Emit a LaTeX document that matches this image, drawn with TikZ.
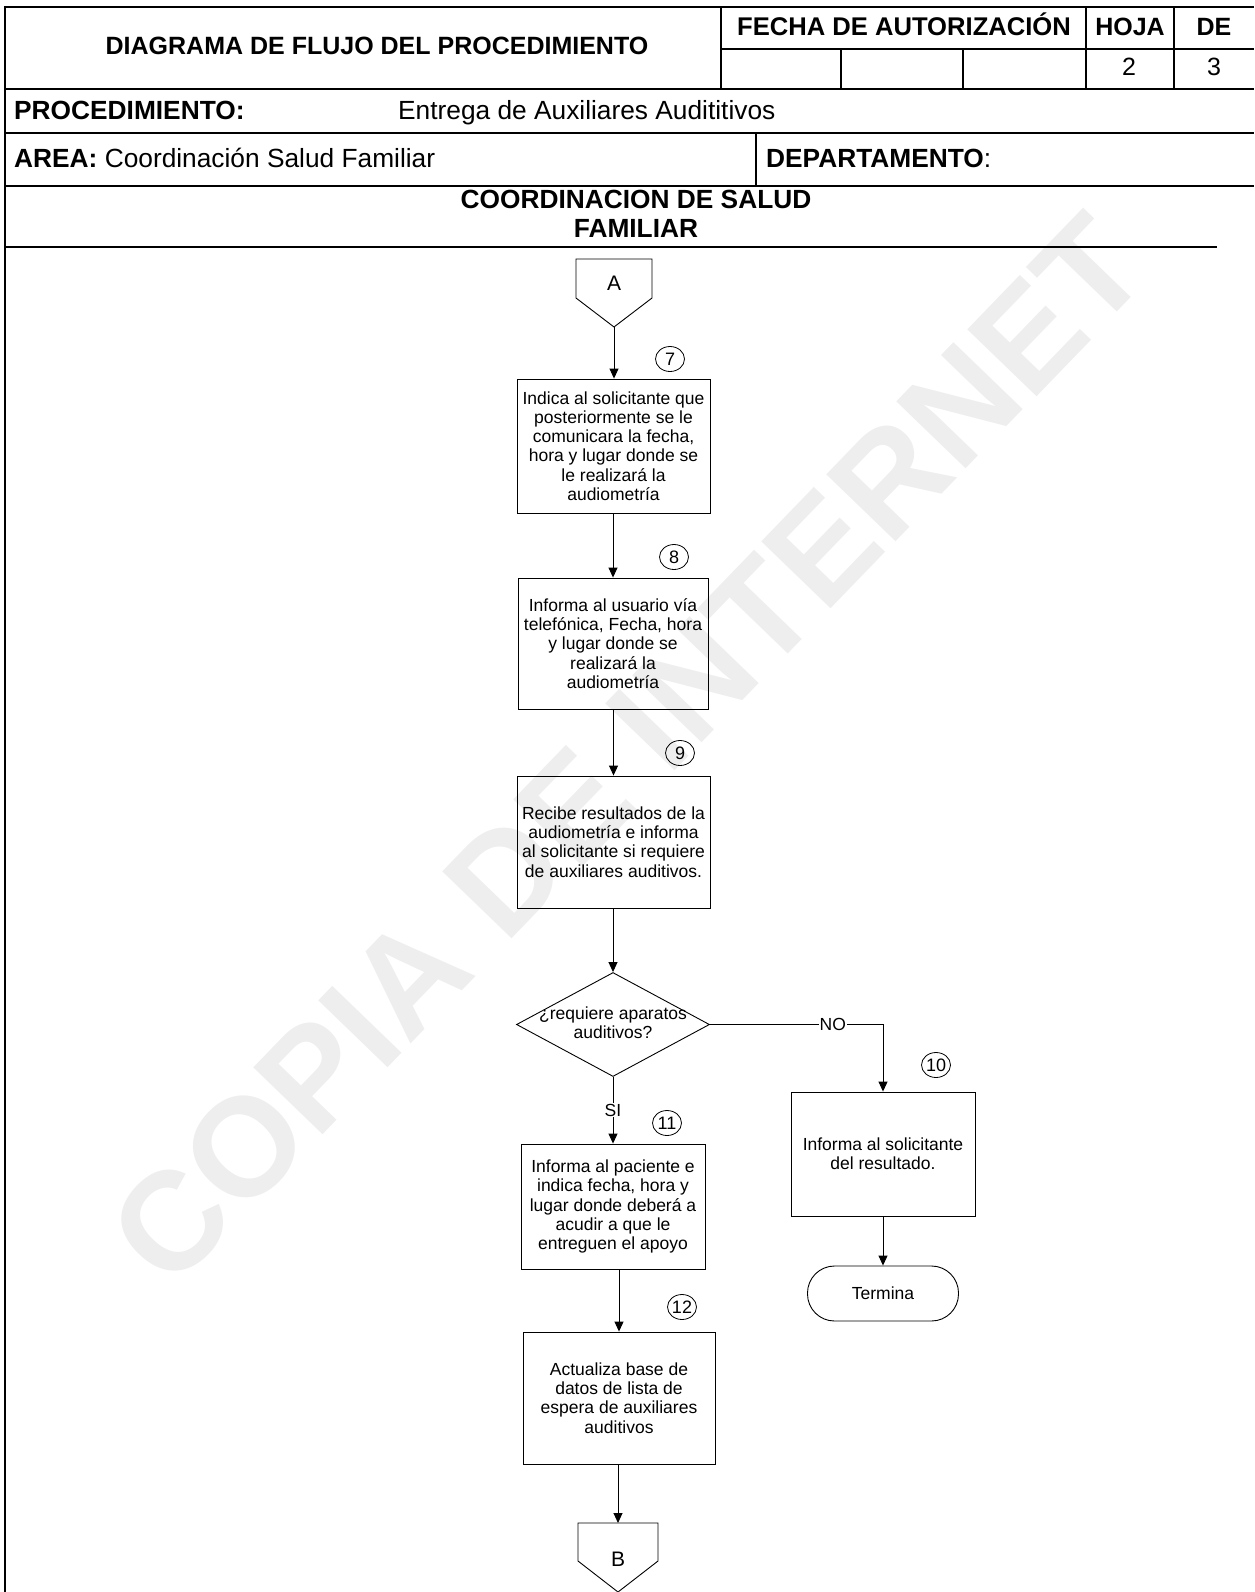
\documentclass[tikz,border=0pt]{standalone}
\usepackage{fontspec}
\setmainfont{Liberation Sans}
\usetikzlibrary{shapes.geometric,arrows.meta}
\begin{document}
\begin{tikzpicture}[x=1pt,y=-1pt,
  hb/.style={font=\fontsize{25}{29}\selectfont\bfseries, inner sep=0pt, anchor=base},
  hr/.style={font=\fontsize{25}{29}\selectfont, inner sep=0pt, anchor=base},
  hbl/.style={font=\fontsize{26.3}{29}\selectfont\bfseries, inner sep=0pt, anchor=base},
  hrl/.style={font=\fontsize{26.3}{29}\selectfont, inner sep=0pt, anchor=base},
  frame/.style={line width=1.6pt},
  box/.style={draw, line width=0.9pt, align=center, font=\fontsize{17.5}{19.3}\selectfont, inner sep=0pt},
  num/.style={draw, ellipse, line width=0.8pt, minimum width=29pt, minimum height=25pt, inner sep=0pt, font=\fontsize{18}{18}\selectfont},
  lbl/.style={font=\fontsize{17.5}{19.3}\selectfont, inner sep=1pt, fill=white},
  txt/.style={font=\fontsize{17.5}{19.3}\selectfont, align=center, inner sep=0pt},
  arr/.style={line width=0.9pt, -{Triangle[length=10pt,width=9pt]}},
  ln/.style={line width=0.9pt}
]
\useasboundingbox (0,0) rectangle (1254,1592);
\fill[white] (0,0) rectangle (1254,1592);

% watermark
\node[rotate=46, text=gray!13, font=\fontsize{140}{140}\selectfont\bfseries, inner sep=0pt] (wm) at (628,750) {COPIA DE INTERNET};

% header frame
\draw[line width=2pt] (5,6) -- (5,1592);
\draw[frame] (5,7) -- (1254,7);
\draw[frame] (5,89) -- (1254,89);
\draw[frame] (5,133) -- (1254,133);
\draw[frame] (5,186) -- (1254,186);
\draw[line width=1.3pt] (5,247) -- (1217,247);
\draw[frame] (721,7) -- (721,89);
\draw[frame] (1086,7) -- (1086,89);
\draw[frame] (1174,7) -- (1174,89);
\draw[frame] (721,49) -- (1254,49);
\draw[frame] (841,49) -- (841,89);
\draw[frame] (963,49) -- (963,89);
\draw[frame] (756,133) -- (756,186);

% header texts
\node[hb] (t1) at (377,55) {DIAGRAMA DE FLUJO DEL PROCEDIMIENTO};
\node[hb, font=\fontsize{25.6}{29}\selectfont\bfseries] (t2) at (904,36) {FECHA DE AUTORIZACIÓN};
\node[hb] (t3) at (1130,36) {HOJA};
\node[hb] (t4) at (1214,36) {DE};
\node[hr] (t5) at (1129,76) {2};
\node[hr] (t6) at (1214,76) {3};
\node[hbl, anchor=base west] (t7) at (14,120) {PROCEDIMIENTO:};
\node[hrl, anchor=base west] (t8) at (398,120) {Entrega de Auxiliares Audititivos};
\node[hrl, anchor=base west] (t9) at (14,167) {\textbf{AREA:} Coordinación Salud Familiar};
\node[hrl, anchor=base west] (t10) at (766,167) {\textbf{DEPARTAMENTO}:};
\node[hbl] (t11) at (636,208) {COORDINACION DE SALUD};
\node[hbl] (t12) at (636,237.5) {FAMILIAR};

% off-page connector A
\draw[ln] (576,259) -- (652,259) -- (652,298) -- (614,327) -- (576,298) -- cycle;
\node[txt, font=\fontsize{21}{21}\selectfont] (cA) at (614,283) {A};
\coordinate (Atip) at (614,327);

% process boxes
\node[box, minimum width=193pt, minimum height=134pt] (b7) at (613.5,446) {Indica al solicitante que\\posteriormente se le\\comunicara la fecha,\\hora y lugar donde se\\le realizará la\\audiometría};
\node[box, minimum width=190pt, minimum height=131pt] (b8) at (613,643.5) {Informa al usuario vía\\telefónica, Fecha, hora\\y lugar donde se\\realizará la\\audiometría};
\node[box, minimum width=193pt, minimum height=132pt] (b9) at (613.5,842) {Recibe resultados de la\\audiometría e informa\\al solicitante si requiere\\de auxiliares auditivos.};
\node[draw, diamond, line width=0.9pt, minimum width=193pt, minimum height=104pt, inner sep=0pt] (d) at (613,1024.5) {};
\node[txt] (dq) at (613,1023) {¿requiere aparatos\\auditivos?};
\node[box, minimum width=184pt, minimum height=124pt] (b10) at (883,1154) {Informa al solicitante\\del resultado.};
\node[box, minimum width=184pt, minimum height=125pt] (b11) at (613,1206.5) {Informa al paciente e\\indica fecha, hora y\\lugar donde deberá a\\acudir a que le\\entreguen el apoyo};
\node[box, minimum width=192pt, minimum height=132pt] (b12) at (619,1398) {Actualiza base de\\datos de lista de\\espera de auxiliares\\auditivos};
\node[box, rounded corners=27pt, minimum width=151pt, minimum height=55pt] (term) at (883,1293.5) {Termina};

% off-page connector B
\draw[ln] (578,1523) -- (658,1523) -- (658,1561) -- (618,1592) -- (578,1561) -- cycle;
\node[txt, font=\fontsize{21}{21}\selectfont] (cB) at (618,1559) {B};
\coordinate (Btop) at (618,1523);

% step numbers
\node[num] (n7) at (670,359) {7};
\node[num] (n8) at (674,557) {8};
\node[num] (n9) at (680,753) {9};
\node[num] (n10) at (936,1065) {10};
\node[num] (n11) at (667,1123) {11};
\node[num] (n12) at (682,1307) {12};

% connectors
\draw[arr] (Atip) -- (Atip |- b7.north);
\draw[arr] (b7.south -| b8.north) -- (b8.north);
\draw[arr] (b8.south -| b9.north) -- (b9.north);
\draw[arr] (b9.south -| d.north) -- (d.north);
\draw[arr] (d.east) -| node[lbl, pos=0.355] (no) {NO} (b10.north);
\draw[arr] (d.south) -- node[lbl] (si) {SI} (d.south |- b11.north);
\draw[arr] (b11.south -| b12.north) -- (b12.north);
\draw[arr] (b12.south -| Btop) -- (Btop);
\draw[arr] (b10.south -| term.north) -- (term.north);
\end{tikzpicture}
\end{document}
